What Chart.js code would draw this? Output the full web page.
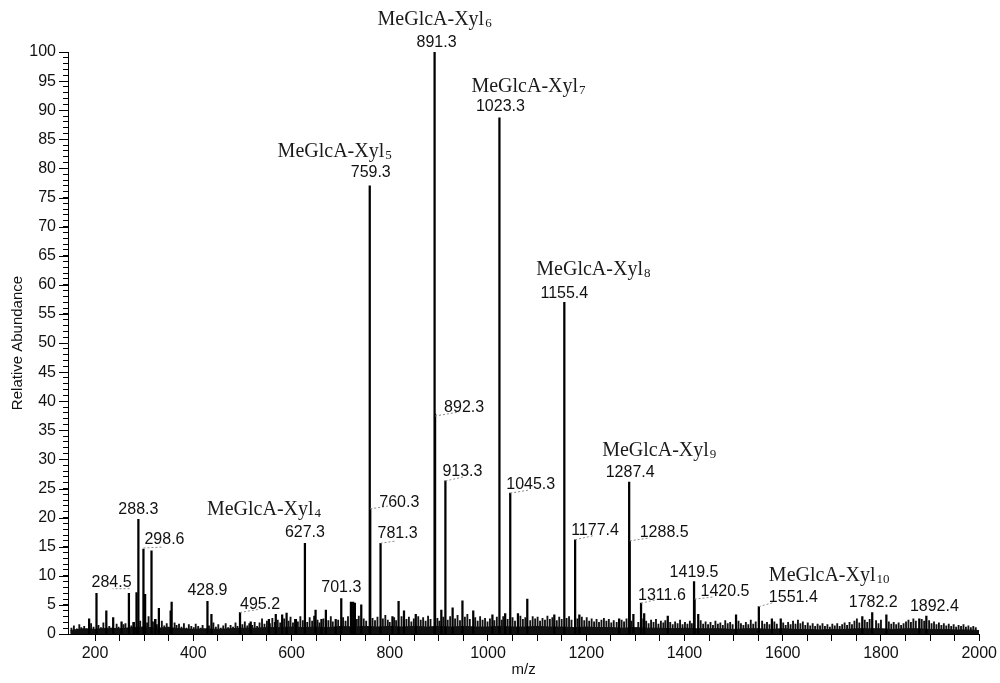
<!DOCTYPE html>
<html><head><meta charset="utf-8">
<script src="https://cdn.jsdelivr.net/npm/chart.js@4"></script>
<style>html,body{margin:0;padding:0;background:#fff}canvas{display:block}</style>
</head><body>
<canvas id="c" width="1000" height="683"></canvas>
<script>
// ---------- DATA (m/z, relative abundance %) ----------
const peaks = [
  [188,2.6],[203,7.0],[223,4.0],[237,2.8],[254,2.1],[269,7.0],[279,2.0],[284.5,7.1],[288.3,19.7],
  [298.6,14.6],[302,6.8],[315,14.3],[323,2.5],[330,4.4],[354,4.0],[356,5.5],
  [428.9,5.6],[437,3.4],[495.2,3.7],[517,2.1],[554,2.5],[568,3.4],[581,3.3],[590,3.6],[609,2.5],
  [627.3,15.6],[649,4.1],[661,2.5],[670,4.1],[690,2.5],[701.3,6.1],[721,5.5],[725.5,5.5],[729,5.3],
  [742,5.0],[759.3,77.0],[760.3,21.5],[781.3,15.6],[805.5,3.0],[818,5.6],[829,4.0],[853,3.4],
  [891.3,100],[892.3,37.8],[905,4.1],[913.3,26.3],[928,4.5],[948,5.7],[970,4.0],[1009,3.3],
  [1023.3,88.7],[1035,3.5],[1045.3,24.2],[1061,3.5],[1080,6.0],[1135,3.3],[1155.4,57.0],
  [1177.4,16.2],[1186,3.3],[1267,2.6],[1287.4,26.1],[1288.5,16.0],[1296,3.4],[1311.6,5.3],
  [1318,3.5],[1366,3.1],[1419.5,9.0],[1420.5,6.0],[1428,3.4],[1505,3.3],[1551.4,4.7],
  [1578,2.6],[1596,2.6],[1762,3.0],[1782.2,3.7],[1811,3.3],[1878,2.6],[1892.4,3.1]
];
const noiseLow = [
  [152,1.0],[157,1.4],[163,0.9],[168,1.6],[172,1.1],[178,1.3],[183,0.9],[192,1.8],[197,1.2],[207,1.5],
  [212,1.1],[217,1.9],[229,1.3],[233,1.0],[244,1.7],[248,1.2],[252,0.9],[258,1.6],[262,1.8],[274,1.4],
  [278,2.0],[292,2.2],[306,1.9],[309,3.0],[318,2.1],[322,2.5],[326,1.6],[336,2.2],[341,1.4],[346,1.8],
  [349,1.2],[362,1.9],[366,1.5],[371,1.7],[376,1.2],[381,1.8],[386,1.0],[391,1.6],[396,1.3],
  [401,1.1],[405,1.7],[410,1.3],[415,1.0],[419,1.5],[432,1.4],[441,1.9],[446,1.2],[451,1.6],[456,1.0],
  [461,1.4],[466,1.8],[471,1.1],[476,1.5],[481,1.2],[486,1.9],[490,1.3],[500,1.6],[505,2.1],[510,1.4],
  [514,1.8],[520,1.5],[525,2.0],[530,1.3],[535,1.9],[540,2.6],[545,1.7],[550,2.2],[556,1.8],[561,2.7],
  [566,2.0],[572,2.4],[577,1.9],[585,2.6],[594,2.2],[598,2.9],[603,1.9],[607,2.5],[613,2.1],[618,3.0],
  [623,2.3],[632,2.0],[637,2.8],[642,2.2],[646,3.1],[653,2.4],[657,1.9],[665,2.6],[675,2.3],[680,3.0],
  [684,2.1],[695,2.4]
];
const noiseMid = [
  [705,2.8],[710,2.2],[715,3.0],[733,2.5],[737,3.1],[747,2.6],[752,2.2],[765,2.7],[770,2.3],[775,2.9],
  [786,2.6],[791,3.2],[796,2.4],[800,2.0],[809,2.8],[813,2.3],[824,3.0],[834,2.5],[839,2.9],[844,2.1],
  [849,2.6],[858,3.0],[863,2.4],[868,2.8],[873,2.2],[878,3.1],[883,2.5],[897,2.7],[901,2.2],[909,2.9],
  [918,2.4],[923,3.0],[933,2.6],[938,3.2],[943,2.3],[953,2.9],[958,3.4],[963,2.5],[974,2.8],[979,2.2],
  [984,3.0],[989,2.4],[994,2.7],[999,2.1],
  [1004,2.6],[1013,2.3],[1018,2.9],[1028,2.4],[1031,3.0],[1040,2.5],[1050,2.8],[1055,2.2],[1066,3.1],
  [1071,2.5],[1076,2.8],[1086,2.3],[1091,3.0],[1096,2.6],[1101,2.9],[1106,2.2],[1111,2.7],[1116,2.4],
  [1121,3.1],[1126,2.5],[1131,2.8],[1140,2.3],[1145,2.9],[1150,2.5],[1160,2.7],[1165,3.0],[1170,2.4],
  [1182,2.6],[1191,2.9],[1196,2.3],[1201,2.8],[1206,2.2],[1211,2.6],[1216,2.1],[1221,2.5],[1226,2.0],
  [1231,2.4],[1236,2.7],[1241,2.2],[1246,2.5],[1251,1.9],[1256,2.3],[1262,2.0],[1272,2.4],[1277,2.1],
  [1282,2.6],[1292,2.2]
];
const noiseHigh = [
  [1306,2.0],[1316,2.6],[1322,2.2],[1327,1.8],[1332,2.4],[1337,2.0],[1342,2.5],[1347,1.7],[1352,2.2],
  [1357,1.9],[1361,2.3],[1371,2.0],[1376,1.6],[1381,2.1],[1386,1.8],[1391,2.4],[1396,1.6],[1401,2.0],
  [1406,1.7],[1411,2.2],[1415,1.8],[1433,2.3],[1438,1.7],[1443,2.1],[1448,1.6],[1453,2.0],[1458,1.5],
  [1463,2.2],[1468,1.7],[1473,1.9],[1478,1.5],[1483,2.3],[1488,1.8],[1493,2.0],[1498,1.6],[1510,2.2],
  [1515,1.8],[1520,1.5],[1525,2.0],[1530,1.6],[1535,2.4],[1540,1.7],[1545,2.1],[1558,2.2],[1563,1.7],
  [1568,2.0],[1573,1.6],[1583,2.1],[1588,1.7],
  [1601,1.9],[1606,1.5],[1611,2.0],[1616,1.6],[1621,2.2],[1626,1.7],[1631,2.4],[1636,1.8],[1641,2.1],
  [1646,1.5],[1651,1.9],[1656,1.4],[1661,1.8],[1666,1.3],[1671,1.7],[1676,1.4],[1681,1.8],[1686,1.3],
  [1691,1.6],[1696,1.2],[1701,1.7],[1706,1.4],[1711,1.8],[1716,1.3],[1721,1.6],[1726,1.9],[1731,1.5],
  [1736,2.0],[1741,1.6],[1746,2.2],[1751,2.6],[1756,1.9],[1767,2.4],[1772,2.0],[1777,2.5],[1790,2.3],
  [1795,1.8],[1800,2.4],[1816,2.1],[1821,1.7],[1826,2.0],[1831,1.6],[1836,1.9],[1841,1.5],[1846,1.8],
  [1851,2.1],[1856,2.4],[1861,2.0],[1866,2.6],[1871,2.2],[1883,2.5],[1888,2.2],[1898,2.3],[1903,1.8],
  [1908,2.1],[1913,1.6],[1918,1.9],[1923,1.5],[1928,1.8],[1933,1.4],[1938,1.7],[1943,1.3],[1948,1.6],
  [1953,1.2],[1958,1.5],[1963,1.3],[1968,1.6],[1973,1.2],[1978,1.4],[1983,1.1],[1988,1.3],[1993,1.1]
];
const baseline = [
  [150,0.6],[175,0.9],[200,0.8],[225,1.0],[250,0.9],[275,1.1],[300,1.2],[325,1.0],[350,1.1],[375,0.9],
  [400,0.8],[425,0.9],[450,0.8],[475,0.9],[500,1.0],[525,1.0],[550,1.1],[575,1.1],[600,1.2],[625,1.1],
  [650,1.2],[675,1.1],[700,1.3],[725,1.2],[750,1.3],[775,1.2],[800,1.3],[825,1.2],[850,1.3],[875,1.2],
  [900,1.3],[925,1.2],[950,1.3],[975,1.2],[1000,1.2],[1025,1.3],[1050,1.2],[1075,1.2],[1100,1.3],
  [1125,1.2],[1150,1.2],[1175,1.1],[1200,1.2],[1225,1.1],[1250,1.1],[1275,1.0],[1300,1.1],[1325,1.0],
  [1350,1.0],[1375,0.9],[1400,1.0],[1425,0.9],[1450,0.9],[1475,0.9],[1500,0.8],[1525,0.9],[1550,0.9],
  [1575,0.8],[1600,0.9],[1625,0.8],[1650,0.8],[1675,0.7],[1700,0.8],[1725,0.8],[1750,0.9],[1775,0.9],
  [1800,0.9],[1825,0.8],[1850,0.9],[1875,0.9],[1900,0.8],[1925,0.8],[1950,0.7],[1975,0.7],[2000,0.6]
];
const labeledMz = ['284.5','288.3','298.6','428.9','495.2','627.3','701.3','759.3','760.3','781.3',
  '891.3','892.3','913.3','1023.3','1045.3','1155.4','1177.4','1287.4','1288.5','1311.6','1419.5',
  '1420.5','1551.4','1782.2','1892.4'];
const oligoName = 'MeGlcA-Xyl';
const oligoDP = ['4','5','6','7','8','9','10'];
const oligoMz = [627.3, 759.3, 891.3, 1023.3, 1155.4, 1287.4, 1551.4];
const xTitle = 'm/z';
const yTitle = 'Relative Abundance';

// ---------- LAYOUT (pixel offsets from peak tops) ----------
const numLayout = {
  '284.5':{a:'right',dx:-5,dy:-10,ld:[-7,-4,-24,-4]},
  '288.3':{a:'center',dx:0,dy:-10},
  '298.6':{a:'left',dx:1,dy:-9,ld:[0,-1,20,-2]},
  '428.9':{a:'center',dx:0,dy:-11},
  '495.2':{a:'left',dx:0,dy:-8,ld:[0,0,18,-3]},
  '627.3':{a:'center',dx:0,dy:-10.5},
  '701.3':{a:'center',dx:0,dy:-11},
  '759.3':{a:'center',dx:1,dy:-13},
  '760.3':{a:'left',dx:9,dy:-6,ld:[0,0,19,-3]},
  '781.3':{a:'left',dx:-3,dy:-10,ld:[0,0,14,-2]},
  '891.3':{a:'center',dx:2,dy:-9},
  '892.3':{a:'left',dx:9,dy:-6,ld:[0,2,24,-2]},
  '913.3':{a:'left',dx:-3,dy:-9,ld:[0,0,18,-4]},
  '1023.3':{a:'center',dx:1,dy:-11},
  '1045.3':{a:'left',dx:-4,dy:-9,ld:[0,0,18,-3]},
  '1155.4':{a:'center',dx:0,dy:-9},
  '1177.4':{a:'left',dx:-4,dy:-9,ld:[0,0,18,-4]},
  '1287.4':{a:'center',dx:1,dy:-10},
  '1288.5':{a:'left',dx:10,dy:-8,ld:[0,0,20,-3]},
  '1311.6':{a:'left',dx:-3,dy:-8,ld:[0,0,18,-4]},
  '1419.5':{a:'center',dx:0,dy:-9},
  '1420.5':{a:'left',dx:6,dy:-7,ld:[0,0,18,-2]},
  '1551.4':{a:'left',dx:10,dy:-9,ld:[0,0,14,-4]},
  '1782.2':{a:'center',dx:1,dy:-10},
  '1892.4':{a:'center',dx:8,dy:-9}
};
const nameLayout = [
  {a:'left',dx:-98,dy:-35},{a:'right',dx:22,dy:-36},{a:'center',dx:0,dy:-34},
  {a:'left',dx:-28,dy:-33},{a:'left',dx:-28,dy:-34},{a:'left',dx:-27,dy:-33},{a:'left',dx:10,dy:-33}
];

const SANS = '"Liberation Sans", Arial, sans-serif';
const SERIF = '"Liberation Serif", "Times New Roman", serif';
const toXY = arr => arr.map(p => ({x:p[0], y:p[1]}));
const peakValue = m => { const p = peaks.find(q => q[0] === m); return p ? p[1] : 0; };

const annot = {
  id:'annot',
  afterDatasetsDraw(chart){
    const ctx = chart.ctx, xs = chart.scales.x, ys = chart.scales.y;
    ctx.save();
    // longer major ticks on y axis
    ctx.strokeStyle = '#000'; ctx.lineWidth = 1;
    ys.ticks.forEach(t => {
      if (t.value % 5 === 0) {
        const y = Math.round(ys.getPixelForValue(t.value)) + 0.5;
        ctx.beginPath(); ctx.moveTo(ys.right - 9, y); ctx.lineTo(ys.right, y); ctx.stroke();
      }
    });
    // numeric labels
    ctx.font = '16px ' + SANS; ctx.fillStyle = '#111'; ctx.textBaseline = 'middle';
    labeledMz.forEach(s => {
      const m = parseFloat(s), L = numLayout[s];
      const px = xs.getPixelForValue(m), py = ys.getPixelForValue(peakValue(m));
      if (L.ld) {
        ctx.save(); ctx.setLineDash([2,2]); ctx.strokeStyle = '#8a8a8a'; ctx.lineWidth = 1;
        ctx.beginPath(); ctx.moveTo(px + L.ld[0], py + L.ld[1]); ctx.lineTo(px + L.ld[2], py + L.ld[3]); ctx.stroke();
        ctx.restore();
      }
      ctx.textAlign = L.a;
      ctx.fillText(s, px + L.dx, py + L.dy);
    });
    // oligosaccharide names with subscript DP
    ctx.textBaseline = 'alphabetic'; ctx.textAlign = 'left'; ctx.fillStyle = '#1a1a1a';
    oligoMz.forEach((m, i) => {
      const L = nameLayout[i];
      const px = xs.getPixelForValue(m), py = ys.getPixelForValue(peakValue(m));
      ctx.font = '20px ' + SERIF;
      const w1 = ctx.measureText(oligoName).width;
      ctx.font = '13px ' + SERIF;
      const w2 = ctx.measureText(oligoDP[i]).width;
      const tw = w1 + 1 + w2;
      let x0 = px + L.dx;
      if (L.a === 'center') x0 -= tw / 2;
      else if (L.a === 'right') x0 -= tw;
      const base = py + L.dy + 7;
      ctx.font = '20px ' + SERIF;
      ctx.fillText(oligoName, x0, base);
      ctx.font = '13px ' + SERIF;
      ctx.fillText(oligoDP[i], x0 + w1 + 1, base + 2);
    });
    ctx.restore();
  }
};

new Chart(document.getElementById('c'), {
  type: 'bar',
  data: {
    datasets: [
      {type:'line', data: toXY(baseline), fill:'origin', backgroundColor:'#111', borderColor:'#111',
       borderWidth:1, pointRadius:0, tension:0, order:3},
      {type:'bar', data: toXY(noiseLow.concat(noiseMid, noiseHigh)), backgroundColor:'#111',
       barThickness:1.2, grouped:false, order:2},
      {type:'bar', data: toXY(peaks), backgroundColor:'#000', barThickness:1.6, grouped:false, order:1}
    ]
  },
  options: {
    responsive:false, animation:false, devicePixelRatio:1,
    layout:{padding:{top:52, right:20, left:0, bottom:0}},
    plugins:{legend:{display:false}, tooltip:{enabled:false}},
    scales:{
      x:{type:'linear', min:145, max:2000, offset:false,
         afterBuildTicks: s => { s.ticks = s.ticks.filter(t => t.value % 50 === 0); },
         grid:{display:true, drawOnChartArea:false, offset:false, tickLength:7, color:'#000'},
         border:{color:'#000', width:1},
         ticks:{stepSize:50, autoSkip:false, maxRotation:0, color:'#111', padding:3,
                font:{family:SANS, size:16},
                callback: v => (v % 200 === 0 ? String(v) : '')},
         title:{display:true, text:xTitle, color:'#111', font:{family:SANS, size:15}, padding:{top:0,bottom:4}},
         afterFit: s => { s.height = 49; }
      },
      y:{type:'linear', min:0, max:100,
         grid:{display:true, drawOnChartArea:false, tickLength:5, color:'#000'},
         border:{color:'#000', width:1},
         ticks:{stepSize:1, autoSkip:false, color:'#111', padding:7,
                font:{family:SANS, size:16},
                callback: v => (v % 5 === 0 ? String(v) : '')},
         title:{display:true, text:yTitle, color:'#111', font:{family:SANS, size:15}, padding:{top:9,bottom:0}},
         afterFit: s => { s.width = 68; }
      }
    }
  },
  plugins:[annot]
});
</script>
</body></html>
